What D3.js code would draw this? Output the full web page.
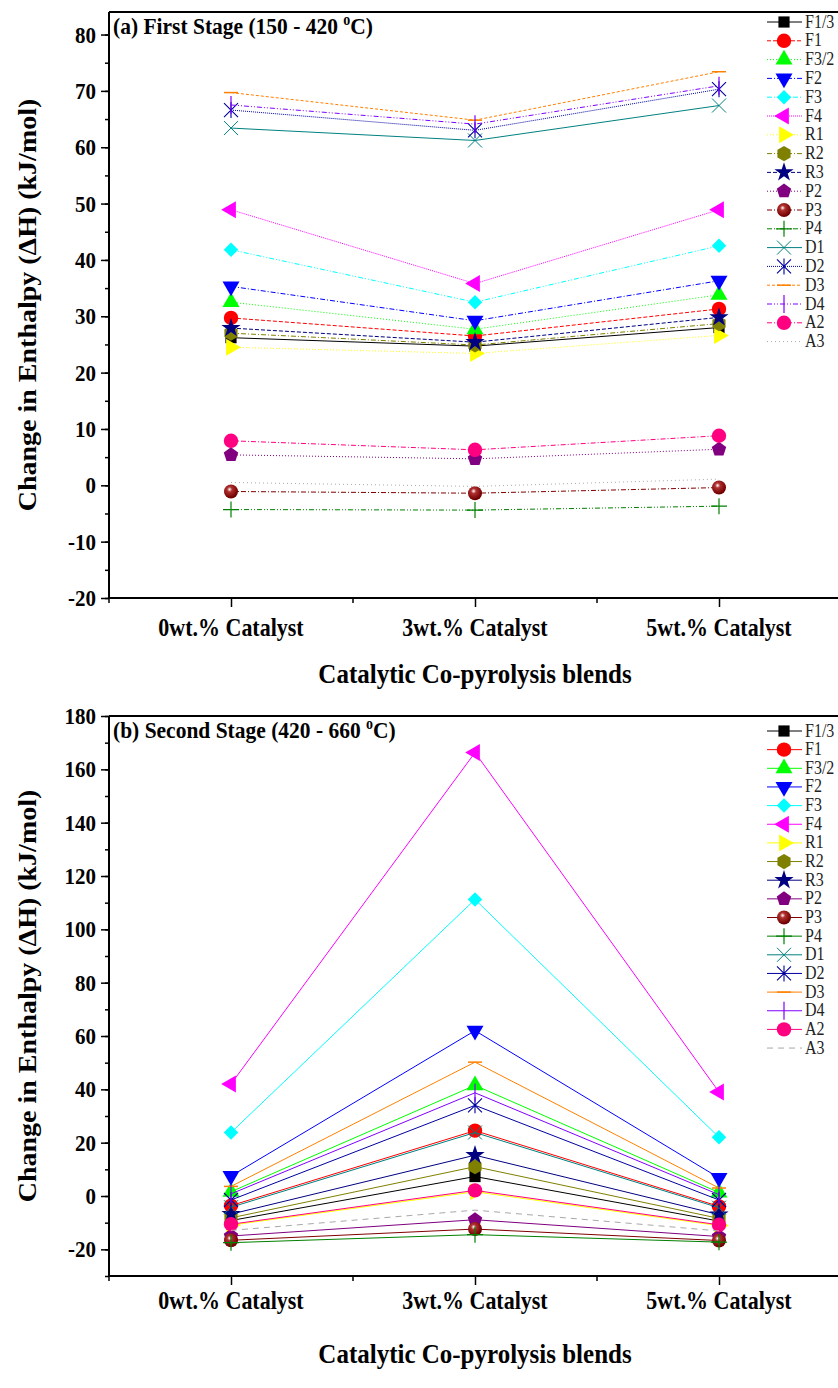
<!DOCTYPE html>
<html>
<head>
<meta charset="utf-8">
<script src="https://cdn.jsdelivr.net/npm/d3@7"></script>
<style>
  body{margin:0;background:#fff;}
  svg{display:block;font-family:"Liberation Serif","Times New Roman",serif;}
  .tick text{font-family:"Liberation Serif","Times New Roman",serif;font-weight:bold;font-size:21px;fill:#000;}
</style>
</head>
<body>
<svg width="838" height="1388"></svg>
<script>
var categories=["0wt.% Catalyst","3wt.% Catalyst","5wt.% Catalyst"];
var names=["F1/3","F1","F3/2","F2","F3","F4","R1","R2","R3","P2","P3","P4","D1","D2","D3","D4","A2","A3"];
var colors=["#000000","#FF0000","#00FF00","#0000FF","#00FFFF","#FF00FF","#FFFF00","#808000","#000080","#800080","#800000","#008000","#008080","#0000A0","#FF8000","#8000FF","#FF0080","#A8A8A8"];
var markers=["square","circle","triUp","triDown","diamond","triLeft","triRight","hexagon","star","pentagon","sphere","plus","xcross","asterisk","hbar","vbar","circle","none"];

// first stage (150 - 420 C), one row per series: 0wt, 3wt, 5wt
var stage1=[
  [26.2,24.7,28.0],
  [29.7,26.5,31.3],
  [32.5,27.7,33.8],
  [35.3,29.2,36.3],
  [41.8,32.5,42.5],
  [48.9,35.8,48.9],
  [24.5,23.4,26.6],
  [27.0,24.9,28.7],
  [27.9,25.4,29.8],
  [5.4,4.7,6.4],
  [-1.1,-1.4,-0.4],
  [-4.3,-4.4,-3.7],
  [63.4,61.2,67.4],
  [66.6,63.0,70.3],
  [69.7,64.8,73.4],
  [67.5,64.1,70.9],
  [7.9,6.3,8.8],
  [0.5,-0.2,1.1]
];
// second stage (420 - 660 C)
var stage2=[
  [-9.2,7.3,-9.4],
  [-3.6,24.5,-3.9],
  [1.6,41.5,1.3],
  [7.5,62.0,6.8],
  [23.8,111.2,22.0],
  [42.0,166.3,39.0],
  [-10.9,1.6,-11.1],
  [-8.2,11.0,-8.4],
  [-6.8,15.3,-7.0],
  [-15.0,-8.9,-15.2],
  [-16.6,-12.4,-16.7],
  [-17.5,-14.5,-17.3],
  [-4.2,23.8,-4.4],
  [-1.5,34.0,-1.5],
  [3.6,50.2,3.0],
  [0.8,38.7,0.5],
  [-10.6,2.1,-10.8],
  [-12.9,-5.3,-13.1]
];
var dash1=["","4,2","1,2","5,2,1,2","5,2,1,2,1,2","1,1","1,2","5,2,1,2","4,2","1,2","5,2,1,2","5,2,1,2,1,2","","1,1","3,2","5,2,1,2,1,2","5,2,1,2","1,3"];
var dash2=["","","","","","","","","","","","","","","","","","6,5"];

var stretch=1.12; // the source picture is a bit taller than wide

var svg=d3.select("svg");
var defs=svg.append("defs");
var grad=defs.append("radialGradient").attr("id","sph").attr("cx","0.4").attr("cy","0.35").attr("r","0.6");
grad.append("stop").attr("offset","0%").attr("stop-color","#ffffff");
grad.append("stop").attr("offset","30%").attr("stop-color","#b03030");
grad.append("stop").attr("offset","100%").attr("stop-color","#700000");

var polyPath=function(n,r,rot){
  var pts=[];
  for(var i=0;i<n;i++){
    var a=rot+i*2*Math.PI/n;
    pts.push([r*Math.cos(a),r*Math.sin(a)]);
  }
  return "M"+pts.map(function(p){return p[0].toFixed(2)+","+p[1].toFixed(2);}).join("L")+"Z";
};

var drawMarker=function(g,type,color,cx,cy){
  var m=g.append("g").attr("transform","translate("+cx+","+cy+")");
  var tri=d3.symbol().type(d3.symbolTriangle).size(125)();
  if(type=="square"){
    m.append("path").attr("d",d3.symbol().type(d3.symbolSquare).size(125)()).attr("fill",color);
  }else if(type=="circle"){
    m.append("circle").attr("r",7.2).attr("fill",color);
  }else if(type=="sphere"){
    m.append("circle").attr("r",7).attr("fill","url(#sph)");
  }else if(type=="triUp"){
    m.append("path").attr("d",tri).attr("fill",color);
  }else if(type=="triDown"){
    m.append("path").attr("d",tri).attr("transform","rotate(180)").attr("fill",color);
  }else if(type=="triLeft"){
    m.append("path").attr("d",tri).attr("transform","rotate(-90)").attr("fill",color);
  }else if(type=="triRight"){
    m.append("path").attr("d",tri).attr("transform","rotate(90)").attr("fill",color);
  }else if(type=="diamond"){
    m.append("path").attr("d",d3.symbol().type(d3.symbolSquare).size(105)()).attr("transform","rotate(45)").attr("fill",color);
  }else if(type=="hexagon"){
    m.append("path").attr("d",polyPath(6,7.6,Math.PI/2)).attr("fill",color);
  }else if(type=="pentagon"){
    m.append("path").attr("d",polyPath(5,7.6,-Math.PI/2)).attr("fill",color);
  }else if(type=="star"){
    m.append("path").attr("d",d3.symbol().type(d3.symbolStar).size(115)()).attr("fill",color);
  }else if(type=="plus"){
    m.append("path").attr("d","M-8,0H8M0,-8V8").attr("stroke",color).attr("stroke-width",1.2);
  }else if(type=="xcross"){
    m.append("path").attr("d","M-7,-7L7,7M-7,7L7,-7").attr("stroke",color).attr("stroke-width",1);
  }else if(type=="asterisk"){
    m.append("path").attr("d","M0,-8V8M-7,-7L7,7M-7,7L7,-7").attr("stroke",color).attr("stroke-width",1.1);
  }else if(type=="hbar"){
    m.append("path").attr("d","M-7,0H7").attr("stroke",color).attr("stroke-width",1.5);
  }else if(type=="vbar"){
    m.append("path").attr("d","M0,-9V9").attr("stroke",color).attr("stroke-width",1.2);
  }
};

// horizontal text, stretched a little in height like the source
var label=function(g,x,y,size,anchor,bold){
  return g.append("text").attr("transform","translate("+x+","+y+")scale(1,"+stretch+")")
    .attr("text-anchor",anchor).attr("font-size",size).attr("font-weight",bold?"bold":"normal");
};

var drawPanel=function(opt){
  var x=d3.scalePoint().domain(categories).range([109,841]).padding(0.5);
  var y=d3.scaleLinear().domain(opt.yDomain).range([opt.bottom,opt.top]);
  var g=svg.append("g");

  // series
  for(var i=0;i<names.length;i++){
    var pts=opt.data[i].map(function(v,j){return [x(categories[j]),y(v)];});
    g.append("path").attr("d",d3.line()(pts))
      .attr("fill","none").attr("stroke",colors[i]).attr("stroke-width",1)
      .attr("stroke-dasharray",opt.dash[i]);
    for(var j=0;j<pts.length;j++){
      drawMarker(g,markers[i],colors[i],pts[j][0],pts[j][1]);
    }
  }

  // frame top
  g.append("line").attr("x1",109).attr("x2",838).attr("y1",opt.top).attr("y2",opt.top)
    .attr("stroke","#000").attr("stroke-width",2);

  // y axis
  var minor=d3.range(opt.yDomain[0],opt.yDomain[1]+0.1,opt.minorStep);
  g.append("g").attr("transform","translate(109,0)")
    .call(d3.axisLeft(y).tickValues(minor).tickSize(4).tickFormat(""))
    .call(function(s){s.select(".domain").remove();s.selectAll("line").attr("stroke-width",1.5);});
  var yAx=g.append("g").attr("transform","translate(109,0)")
    .call(d3.axisLeft(y).tickValues(opt.yTicks).tickSize(8).tickPadding(5).tickFormat(d3.format("d")));
  yAx.select(".domain").attr("d","M0,"+opt.bottom+"V"+opt.top).attr("stroke-width",2);
  yAx.selectAll("line").attr("stroke-width",1.5);
  yAx.selectAll("text").text(function(d){return d<0?"-"+Math.abs(d):d;})
    .attr("transform","scale(1,"+stretch+")");

  // x axis
  var xAx=g.append("g").attr("transform","translate(0,"+opt.bottom+")")
    .call(d3.axisBottom(x).tickSize(9).tickFormat(""));
  xAx.select(".domain").attr("d","M109,0H838").attr("stroke-width",2);
  xAx.selectAll("line").attr("stroke-width",1.5);
  var mids=[109,(x(categories[0])+x(categories[1]))/2,(x(categories[1])+x(categories[2]))/2];
  g.selectAll("line.xminor").data(mids).enter().append("line").attr("class","xminor")
    .attr("x1",function(d){return d;}).attr("x2",function(d){return d;})
    .attr("y1",opt.bottom).attr("y2",opt.bottom+5).attr("stroke","#000").attr("stroke-width",1.5);
  categories.forEach(function(c){
    label(g,x(c),opt.bottom+opt.catGap,22,"middle",true).text(c);
  });

  // titles
  label(g,475,opt.bottom+opt.titleGap,25,"middle",true).text("Catalytic Co-pyrolysis blends");
  g.append("text").attr("text-anchor","middle").attr("font-weight","bold").attr("font-size",25)
    .attr("transform","translate(36,"+((opt.top+opt.bottom)/2)+")rotate(-90)scale("+stretch+",1)")
    .text("Change in Enthalpy (\u0394H) (kJ/mol)");
  var t=label(g,113,opt.top+22,21.5,"start",true);
  t.append("tspan").text(opt.title);
  t.append("tspan").attr("dy",-8).attr("font-size",14).text("o");
  t.append("tspan").attr("dy",8).text("C)");

  // legend
  var lg=g.append("g");
  for(var k=0;k<names.length;k++){
    var ly=opt.legTop+k*opt.legStep;
    lg.append("line").attr("x1",767).attr("x2",802).attr("y1",ly).attr("y2",ly)
      .attr("stroke",colors[k]).attr("stroke-width",1).attr("stroke-dasharray",opt.dash[k]);
    drawMarker(lg,markers[k],colors[k],784,ly);
    label(lg,805,ly+5.5,16,"start",false).attr("fill","#222").text(names[k]);
  }
};

drawPanel({data:stage1,yDomain:[-20,84],yTicks:d3.range(-20,81,10),minorStep:5,top:12,bottom:598,
  dash:dash1,title:"(a) First Stage (150 - 420 ",legTop:22,legStep:18.8,catGap:38,titleGap:85});
drawPanel({data:stage2,yDomain:[-30,180],yTicks:d3.range(-20,181,20),minorStep:10,top:716,bottom:1276,
  dash:dash2,title:"(b) Second Stage (420 - 660 ",legTop:731,legStep:18.65,catGap:33,titleGap:87});
</script>
</body>
</html>
